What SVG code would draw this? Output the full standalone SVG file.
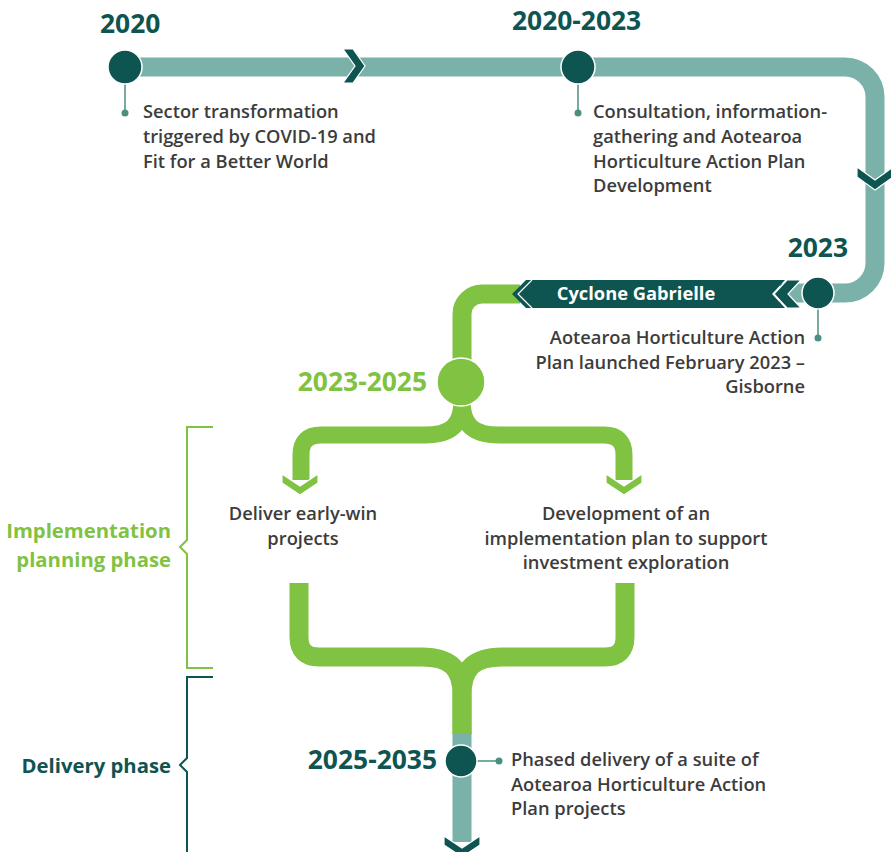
<svg xmlns="http://www.w3.org/2000/svg" width="891" height="852" viewBox="0 0 891 852">
  <style>
    .band { fill: none; stroke-linejoin: round; }
    .teal { stroke: #7ab2aa; }
    .green { stroke: #80c242; }
    .dark-fill { fill: #0e5451; }
    .chev { fill: #0e5451; stroke: #ffffff; stroke-width: 1.2; }
    .chev-g { fill: #80c242; stroke: #ffffff; stroke-width: 1.2; }
    .node { stroke: #ffffff; stroke-width: 1.5; }
    .leader { stroke: #4a8f80; stroke-width: 1.5; fill: none; }
    .dot { fill: #4a8f80; }
    .year { font-family: "Open Sans", "Liberation Sans", sans-serif; font-weight: 700; font-size: 26.4px; }
    .body { font-family: "Open Sans", "Liberation Sans", sans-serif; font-weight: 600; font-size: 18.3px; fill: #3c3c3c; }
    .phase { font-family: "Open Sans", "Liberation Sans", sans-serif; font-weight: 700; font-size: 20.3px; }
    .bracket { fill: none; stroke-width: 2; }
  </style>

  <!-- connectors: the timeline bands, branches and chevrons -->
  <g id="connectors">
    <!-- teal loop from 2020 round to 2023 -->
    <path class="band teal" stroke-width="19" d="M 125 67 H 845 A 30 30 0 0 1 875 97 V 263 A 30 30 0 0 1 845 293 H 780"/>
    <polygon class="chev" points="343,49 353,49 365,66 353,83 343,83 355,66"/>
    <polygon class="chev" points="857,167 875,180 893,167 893,177 875,190 857,177"/>

    <!-- green run from the banner down to 2023-2025 -->
    <path class="band green" stroke-width="19" d="M 520 294 H 482 A 20 20 0 0 0 462 314 V 370"/>

    <!-- split into two streams -->
    <path class="band green" stroke-width="17" d="M 462 400 C 462 426 450 435 425 435 H 321 Q 301 435 301 455 V 480"/>
    <path class="band green" stroke-width="17" d="M 462 400 C 462 426 474 435 499 435 H 604 Q 624 435 624 455 V 480"/>
    <polygon class="chev-g" points="282,474 300,486 318,474 318,483 300,495 282,483"/>
    <polygon class="chev-g" points="606,474 624,486 642,474 642,483 624,495 606,483"/>

    <!-- streams merging again -->
    <path class="band green" stroke-width="19" d="M 299 583 V 637 Q 299 657 319 657 H 422 C 450 657 462 668 462 695 V 734"/>
    <path class="band green" stroke-width="19" d="M 625 583 V 637 Q 625 657 605 657 H 502 C 474 657 462 668 462 695 V 734"/>

    <!-- delivery stem -->
    <path class="band teal" stroke-width="19" d="M 462 733 V 842"/>
    <polygon class="chev" points="444,836 462,848 480,836 480,845 462,857 444,845"/>

    <!-- leaders to the descriptions -->
    <path class="leader" d="M 125 84 V 113"/>
    <circle class="dot" cx="125" cy="113" r="3.5"/>
    <path class="leader" d="M 578 84 V 113"/>
    <circle class="dot" cx="578" cy="113" r="3.5"/>
    <path class="leader" d="M 818 309 V 338"/>
    <circle class="dot" cx="818" cy="338" r="3.5"/>
    <path class="leader" d="M 477 761 H 499"/>
    <circle class="dot" cx="499" cy="761" r="3.5"/>
  </g>

  <!-- Cyclone Gabrielle banner -->
  <g id="cyclone">
    <polygon class="chev" points="787,280 801,280 788,294 801,308 787,308 774,294"/>
    <polygon class="dark-fill" points="512,294 526,280 785,280 772,294 785,308 526,308"/>
    <polyline points="532,280 518,294 532,308" fill="none" stroke="#ffffff" stroke-width="1.2"/>
    <text x="636" y="300" text-anchor="middle" font-family="Open Sans, Liberation Sans, sans-serif" font-weight="700" font-size="18.3" fill="#ffffff">Cyclone Gabrielle</text>
  </g>

  <g id="n2020">
    <circle class="node dark-fill" cx="125" cy="67" r="17"/>
    <text class="year" x="100" y="33" fill="#0e5451">2020</text>
    <text class="body" x="143" y="118">Sector transformation</text>
    <text class="body" x="143" y="143">triggered by COVID-19 and</text>
    <text class="body" x="143" y="168">Fit for a Better World</text>
  </g>

  <g id="n2020-2023">
    <circle class="node dark-fill" cx="578" cy="67" r="17"/>
    <text class="year" x="512" y="30" fill="#0e5451">2020-2023</text>
    <text class="body" x="593" y="118">Consultation, information-</text>
    <text class="body" x="593" y="143">gathering and Aotearoa</text>
    <text class="body" x="593" y="168">Horticulture Action Plan</text>
    <text class="body" x="593" y="192">Development</text>
  </g>

  <g id="n2023">
    <circle class="node dark-fill" cx="818" cy="293" r="16"/>
    <text class="year" x="848" y="257" text-anchor="end" fill="#0e5451">2023</text>
    <text class="body" x="805" y="344" text-anchor="end">Aotearoa Horticulture Action</text>
    <text class="body" x="805" y="369" text-anchor="end">Plan launched February 2023 –</text>
    <text class="body" x="805" y="393" text-anchor="end">Gisborne</text>
  </g>

  <g id="n2023-2025">
    <circle class="node" cx="461" cy="382" r="24" fill="#80c242"/>
    <text class="year" x="427" y="391" text-anchor="end" fill="#80c242">2023-2025</text>
  </g>

  <g id="early-win">
    <text class="body" x="303" y="520" text-anchor="middle">Deliver early-win</text>
    <text class="body" x="303" y="545" text-anchor="middle">projects</text>
  </g>

  <g id="implementation-plan">
    <text class="body" x="626" y="520" text-anchor="middle">Development of an</text>
    <text class="body" x="626" y="545" text-anchor="middle">implementation plan to support</text>
    <text class="body" x="626" y="569" text-anchor="middle">investment exploration</text>
  </g>

  <g id="n2025-2035">
    <circle class="node dark-fill" cx="461" cy="761" r="16"/>
    <text class="year" x="437" y="769" text-anchor="end" fill="#0e5451">2025-2035</text>
    <text class="body" x="511" y="766">Phased delivery of a suite of</text>
    <text class="body" x="511" y="791">Aotearoa Horticulture Action</text>
    <text class="body" x="511" y="815">Plan projects</text>
  </g>

  <g id="planning-phase">
    <path class="bracket" stroke="#80c242" d="M 213 427 H 187 V 540 L 180 547 L 187 554 V 668 H 213"/>
    <text class="phase" x="171" y="538" text-anchor="end" fill="#80c242">Implementation</text>
    <text class="phase" x="171" y="567" text-anchor="end" fill="#80c242">planning phase</text>
  </g>

  <g id="delivery-phase">
    <path class="bracket" stroke="#0e5451" d="M 213 677 H 187 V 758 L 180 765 L 187 772 V 852"/>
    <text class="phase" x="171" y="773" text-anchor="end" fill="#0e5451">Delivery phase</text>
  </g>
</svg>
